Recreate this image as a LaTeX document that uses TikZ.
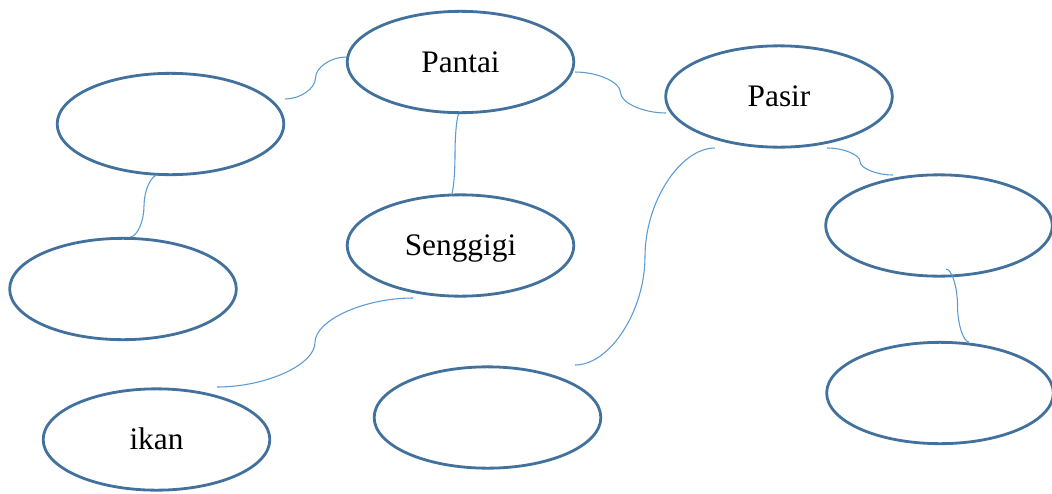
\documentclass[tikz,border=0pt]{standalone}
\usepackage{fontspec}
\setmainfont{Liberation Serif}
\usetikzlibrary{shapes.geometric,calc}
\definecolor{ellblue}{HTML}{41719C}
\definecolor{conblue}{HTML}{5B9BD5}
\tikzset{
  bubble/.style={ellipse, draw=ellblue, line width=2.1pt, fill=white,
    minimum width=170pt, minimum height=76pt, inner sep=0pt,
    font=\fontsize{23.5}{28}\selectfont, text height=15.5pt, text depth=0pt},
  conn/.style={draw=conblue, line width=0.8pt},
  curv/.style={to path={let \p1=(\tikztostart), \p2=(\tikztotarget) in
    .. controls ({0.75*\x1+0.25*\x2},\y1) and ({0.5*\x1+0.5*\x2},{0.75*\y1+0.25*\y2})
    .. ({0.5*\x1+0.5*\x2},{0.5*\y1+0.5*\y2})
    .. controls ({0.5*\x1+0.5*\x2},{0.25*\y1+0.75*\y2}) and ({0.25*\x1+0.75*\x2},\y2)
    .. (\tikztotarget)}}
}
\begin{document}
\begin{tikzpicture}[x=0.75pt, y=-0.75pt]
\useasboundingbox (0,0) rectangle (1052,493);
\fill[white] (0,0) rectangle (1052,493);
% connector end points
\coordinate (tlR) at (285,99);
\coordinate (paL) at (346,57);
\coordinate (paR) at (575,72);
\coordinate (psL) at (666,113);
\coordinate (paB) at (459,114);
\coordinate (seT) at (451,195);
\coordinate (tlB) at (158,175);
\coordinate (lfT) at (130,237);
\coordinate (seB) at (413,298);
\coordinate (ikT) at (217,387);
\coordinate (psBL) at (715,148);
\coordinate (mbT) at (575,365);
\coordinate (psBR) at (827,148);
\coordinate (ruL) at (893,175);
\coordinate (ruB) at (946,269);
\coordinate (rlT) at (969,342);
% ellipses
\node[bubble] (pantai) at (460.5,62) {Pantai};
\node[bubble] (pasir) at (779,96.5) {Pasir};
\node[bubble] (tl) at (170.5,124) {};
\node[bubble] (lf) at (123,289) {};
\node[bubble] (senggigi) at (460.5,245.5) {Senggigi};
\node[bubble] (ru) at (939,225.5) {};
\node[bubble] (rl) at (940,393) {};
\node[bubble] (ikan) at (156.5,439.5) {ikan};
\node[bubble] (mb) at (487.5,417.5) {};
% connectors
\draw[conn] (tlR) to[curv] (paL);
\draw[conn] (paR) to[curv] (psL);
\draw[conn] (paB) to[curv] (seT);
\draw[conn] (tlB) to[curv] (lfT);
\draw[conn] (seB) to[curv] (ikT);
\draw[conn] (psBL) to[curv] (mbT);
\draw[conn] (psBR) to[curv] (ruL);
\draw[conn] (ruB) to[curv] (rlT);
\end{tikzpicture}
\end{document}
